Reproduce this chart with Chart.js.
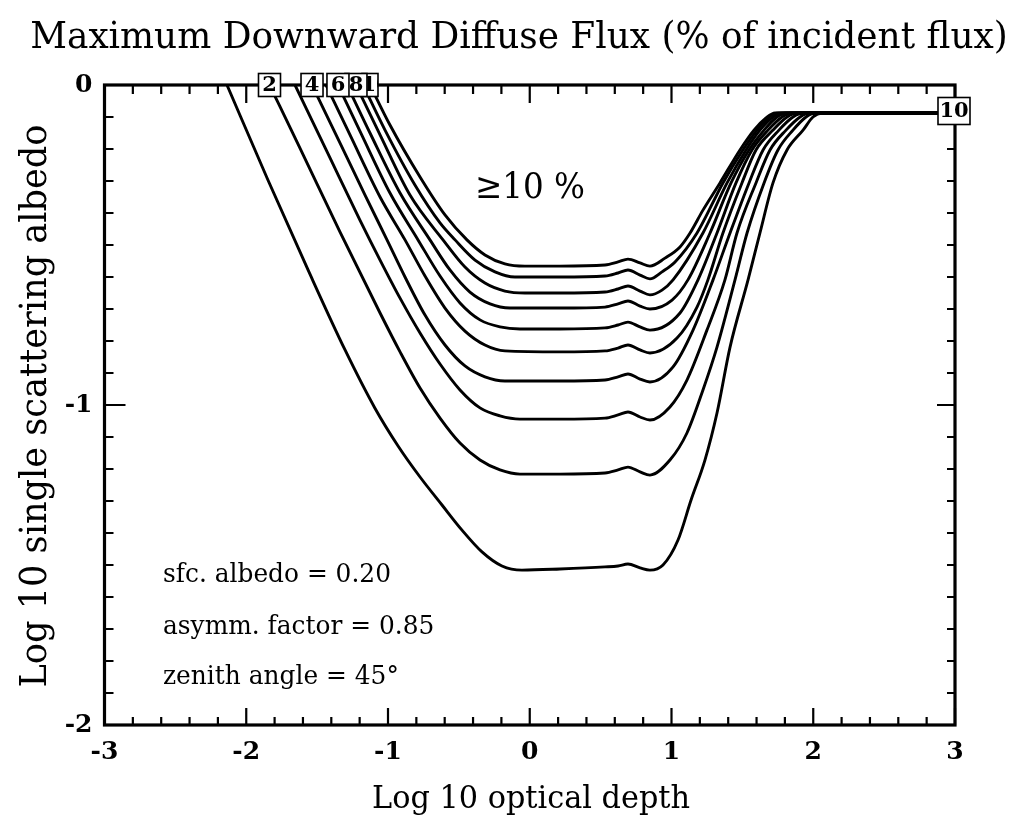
<!DOCTYPE html>
<html>
<head>
<meta charset="utf-8">
<script src="https://cdn.jsdelivr.net/npm/chart.js@4.4.1/dist/chart.umd.min.js"></script>
<style>
  html, body { margin: 0; padding: 0; background: #ffffff; }
  #wrap { width: 1015px; height: 819px; }
</style>
</head>
<body>
<div id="wrap"><canvas id="c" width="1015" height="819"></canvas></div>
<script>
// Contours of maximum downward diffuse flux, 1 % ... 10 %,
// as [log10 optical depth, log10 single scattering albedo] pairs.
const flux1 = [[-2.136,0],[-1.847,-0.297],[-1.564,-0.578],[-1.303,-0.828],[-1.092,-1.010],[-0.929,-1.128],[-0.774,-1.225],[-0.619,-1.3125],[-0.478,-1.391],[-0.337,-1.459],[-0.196,-1.503],[-0.055,-1.516],[0.213,-1.5125],[0.531,-1.506],[0.623,-1.503],[0.693,-1.497],[0.778,-1.509],[0.848,-1.516],[0.940,-1.50],[1.046,-1.422],[1.138,-1.297],[1.236,-1.172],[1.321,-1.025],[1.413,-0.819],[1.540,-0.609],[1.624,-0.4625],[1.716,-0.306],[1.815,-0.203],[1.928,-0.141],[1.998,-0.100],[2.062,-0.0875],[3,-0.0875]];
const flux2 = [[-1.836,0],[-1.621,-0.197],[-1.339,-0.459],[-1.056,-0.7125],[-0.915,-0.834],[-0.774,-0.947],[-0.633,-1.041],[-0.492,-1.119],[-0.351,-1.172],[-0.210,-1.203],[-0.069,-1.216],[0.213,-1.216],[0.531,-1.2125],[0.623,-1.203],[0.693,-1.194],[0.778,-1.209],[0.848,-1.219],[0.989,-1.172],[1.109,-1.0875],[1.222,-0.953],[1.321,-0.819],[1.448,-0.609],[1.533,-0.4625],[1.653,-0.306],[1.751,-0.203],[1.857,-0.141],[1.949,-0.100],[2.012,-0.0875],[3,-0.0875]];
const flux3 = [[-1.656,0],[-1.409,-0.228],[-1.198,-0.422],[-1.056,-0.547],[-0.915,-0.666],[-0.774,-0.775],[-0.633,-0.872],[-0.492,-0.953],[-0.351,-1.009],[-0.210,-1.034],[-0.069,-1.044],[0.213,-1.044],[0.531,-1.041],[0.623,-1.031],[0.693,-1.022],[0.778,-1.0375],[0.848,-1.047],[0.989,-1.006],[1.109,-0.922],[1.250,-0.766],[1.377,-0.609],[1.462,-0.4625],[1.596,-0.306],[1.695,-0.203],[1.808,-0.141],[1.907,-0.100],[1.970,-0.0875],[3,-0.0875]];
const flux4 = [[-1.536,0],[-1.339,-0.181],[-1.162,-0.344],[-1.007,-0.484],[-0.880,-0.600],[-0.739,-0.719],[-0.598,-0.8125],[-0.457,-0.878],[-0.316,-0.912],[-0.175,-0.925],[0.213,-0.925],[0.531,-0.922],[0.623,-0.912],[0.693,-0.903],[0.778,-0.919],[0.848,-0.928],[1.011,-0.881],[1.152,-0.766],[1.293,-0.609],[1.413,-0.4625],[1.547,-0.306],[1.646,-0.203],[1.758,-0.141],[1.857,-0.100],[1.928,-0.0875],[3,-0.0875]];
const flux5 = [[-1.437,0],[-1.268,-0.156],[-1.056,-0.350],[-0.880,-0.484],[-0.739,-0.597],[-0.598,-0.697],[-0.457,-0.769],[-0.316,-0.8125],[-0.175,-0.831],[0.213,-0.834],[0.531,-0.831],[0.623,-0.822],[0.693,-0.8125],[0.778,-0.828],[0.848,-0.8375],[1.039,-0.791],[1.180,-0.694],[1.257,-0.609],[1.363,-0.4625],[1.497,-0.306],[1.596,-0.203],[1.716,-0.141],[1.815,-0.100],[1.885,-0.0875],[3,-0.0875]];
const flux6 = [[-1.353,0],[-1.198,-0.144],[-0.986,-0.3375],[-0.788,-0.484],[-0.633,-0.597],[-0.492,-0.681],[-0.351,-0.734],[-0.210,-0.756],[-0.069,-0.7625],[0.213,-0.7625],[0.531,-0.759],[0.623,-0.750],[0.693,-0.741],[0.778,-0.756],[0.848,-0.766],[1.060,-0.7125],[1.187,-0.609],[1.321,-0.4625],[1.455,-0.306],[1.568,-0.203],[1.681,-0.141],[1.780,-0.100],[1.850,-0.0875],[3,-0.0875]];
const flux7 = [[-1.289,0],[-1.127,-0.150],[-0.915,-0.3375],[-0.704,-0.484],[-0.563,-0.578],[-0.422,-0.647],[-0.280,-0.684],[-0.139,-0.697],[0.213,-0.697],[0.531,-0.694],[0.623,-0.684],[0.693,-0.675],[0.778,-0.691],[0.848,-0.700],[1.004,-0.672],[1.116,-0.609],[1.272,-0.4625],[1.420,-0.306],[1.547,-0.203],[1.653,-0.141],[1.744,-0.100],[1.815,-0.0875],[3,-0.0875]];
const flux8 = [[-1.226,0],[-1.056,-0.156],[-0.845,-0.344],[-0.612,-0.484],[-0.457,-0.569],[-0.316,-0.619],[-0.175,-0.644],[-0.034,-0.650],[0.213,-0.650],[0.531,-0.647],[0.623,-0.6375],[0.693,-0.628],[0.778,-0.644],[0.848,-0.656],[0.933,-0.641],[1.011,-0.609],[1.222,-0.4625],[1.392,-0.306],[1.526,-0.203],[1.624,-0.141],[1.716,-0.100],[1.787,-0.0875],[3,-0.0875]];
const flux9 = [[-1.176,0],[-1.021,-0.141],[-0.810,-0.3125],[-0.633,-0.431],[-0.527,-0.484],[-0.386,-0.547],[-0.245,-0.584],[-0.104,-0.600],[0.213,-0.600],[0.531,-0.597],[0.623,-0.5875],[0.693,-0.578],[0.778,-0.594],[0.848,-0.606],[0.933,-0.584],[1.025,-0.553],[1.180,-0.4625],[1.363,-0.306],[1.504,-0.203],[1.603,-0.141],[1.688,-0.100],[1.758,-0.0875],[3,-0.0875]];
const flux10 = [[-1.127,0],[-0.986,-0.125],[-0.774,-0.2875],[-0.598,-0.406],[-0.443,-0.484],[-0.316,-0.531],[-0.175,-0.559],[-0.034,-0.566],[0.213,-0.566],[0.531,-0.5625],[0.623,-0.553],[0.693,-0.544],[0.778,-0.556],[0.848,-0.566],[0.954,-0.541],[1.060,-0.506],[1.131,-0.4625],[1.222,-0.391],[1.342,-0.306],[1.483,-0.203],[1.582,-0.141],[1.667,-0.103],[1.730,-0.0875],[3,-0.0875]];

const contours = [flux1, flux2, flux3, flux4, flux5, flux6, flux7, flux8, flux9, flux10];
const contourLevels = [1, 2, 3, 4, 5, 6, 7, 8, 9, 10];
// levels that get a boxed label where the contour leaves the top edge
const topLabelLevels = [10, 8, 6, 4, 2];
// level labelled at the right-hand end of its contour
const endLabelLevel = 10;

const xTickValues = [-3, -2, -1, 0, 1, 2, 3];
const yTickValues = [-2, -1, 0];

const titleText = 'Maximum Downward Diffuse Flux (% of incident flux)';
const xTitleText = 'Log 10 optical depth';
const yTitleText = 'Log 10 single scattering albedo';
const regionText = '\u226510 %';
const noteLines = ['sfc. albedo = 0.20', 'asymm. factor = 0.85', 'zenith angle = 45\u00b0'];

const SERIF = '"DejaVu Serif", "Liberation Serif", serif';

// draws text with its glyphs narrowed horizontally by `squeeze`
function drawSqueezed(ctx, text, x, y, align, size, squeeze, weight) {
  ctx.save();
  ctx.font = (weight || 'normal') + ' ' + size.toFixed(2) + 'px ' + SERIF;
  ctx.textAlign = align;
  ctx.translate(x, y);
  ctx.scale(squeeze, 1);
  ctx.fillText(text, 0, 0);
  ctx.restore();
}
// font size that makes `text` span `width` pixels once narrowed by `squeeze`
function sizeFor(ctx, text, width, squeeze, weight) {
  ctx.font = (weight || 'normal') + ' 100px ' + SERIF;
  return 100 * width / (ctx.measureText(text).width * squeeze);
}

// frame, inward tick marks, labels and annotation text
const decorPlugin = {
  id: 'decor',
  afterDatasetsDraw(chart) {
    const ctx = chart.ctx;
    const xs = chart.scales.x, ys = chart.scales.y;
    const a = chart.chartArea;
    ctx.save();
    ctx.strokeStyle = '#000';
    ctx.lineCap = 'butt';

    // minor/major ticks on all four sides, pointing inward
    ctx.lineWidth = 2.2;
    ctx.beginPath();
    for (let i = 0; i <= 30; i++) {
      const v = -3 + i * 0.2;
      const major = i % 5 === 0;
      const p = xs.getPixelForValue(v);
      const lb = major ? 17 : 8;
      const lt = major ? 18 : 9;
      ctx.moveTo(p, a.bottom); ctx.lineTo(p, a.bottom - lb);
      ctx.moveTo(p, a.top); ctx.lineTo(p, a.top + lt);
    }
    for (let i = 0; i <= 20; i++) {
      const v = -2 + i * 0.1;
      const major = i % 10 === 0;
      const p = ys.getPixelForValue(v);
      const ll = major ? 21 : 9;
      const lr = major ? 18 : 8;
      ctx.moveTo(a.left, p); ctx.lineTo(a.left + ll, p);
      ctx.moveTo(a.right, p); ctx.lineTo(a.right - lr, p);
    }
    ctx.stroke();

    // frame
    ctx.lineWidth = 3.2;
    ctx.strokeRect(a.left, a.top, a.right - a.left, a.bottom - a.top);

    // boxed contour labels at the top edge
    ctx.textAlign = 'center';
    ctx.textBaseline = 'middle';
    topLabelLevels.forEach(level => {
      const pts = contours[contourLevels.indexOf(level)];
      const cx = xs.getPixelForValue(pts[0][0]);
      const cy = ys.getPixelForValue(pts[0][1]);
      const w = level >= 10 ? 16 : 22, h = 23;
      ctx.save();
      ctx.fillStyle = '#fff';
      ctx.fillRect(cx - w / 2, cy - h / 2, w, h);
      ctx.beginPath();
      ctx.rect(cx - w / 2, cy - h / 2, w, h);
      ctx.clip();
      ctx.fillStyle = '#000';
      ctx.font = 'bold 21px ' + SERIF;
      ctx.fillText(String(level), level >= 10 ? cx + 6 : cx, cy + 1);
      ctx.restore();
      ctx.lineWidth = 1.6;
      ctx.strokeRect(cx - w / 2, cy - h / 2, w, h);
    });

    // boxed label at the right-hand end
    {
      const pts = contours[contourLevels.indexOf(endLabelLevel)];
      const last = pts[pts.length - 1];
      const cx = xs.getPixelForValue(last[0]) - 1;
      const cy = ys.getPixelForValue(last[1]) - 2;
      const w = 32, h = 27;
      ctx.fillStyle = '#fff';
      ctx.fillRect(cx - w / 2, cy - h / 2, w, h);
      ctx.lineWidth = 1.6;
      ctx.strokeRect(cx - w / 2, cy - h / 2, w, h);
      ctx.fillStyle = '#000';
      ctx.font = 'bold 21px ' + SERIF;
      ctx.fillText(String(endLabelLevel), cx, cy + 1);
    }

    ctx.fillStyle = '#000';
    ctx.textBaseline = 'alphabetic';

    // region label
    drawSqueezed(ctx, regionText, 530, 198, 'center',
      sizeFor(ctx, regionText, 110, 0.9), 0.9);

    // parameter notes
    const noteSize = sizeFor(ctx, noteLines[0], 228, 0.93);
    const baselines = [582, 634, 684];
    noteLines.forEach((t, i) => drawSqueezed(ctx, t, 163, baselines[i], 'left', noteSize, 0.93));

    // chart title
    drawSqueezed(ctx, titleText, 519, 48, 'center',
      sizeFor(ctx, titleText, 978, 0.95), 0.95);

    // axis titles
    drawSqueezed(ctx, xTitleText, 531, 808, 'center',
      sizeFor(ctx, xTitleText, 318, 0.94), 0.94);

    ctx.save();
    ctx.translate(46, 406);
    ctx.rotate(-Math.PI / 2);
    drawSqueezed(ctx, yTitleText, 0, 0, 'center',
      sizeFor(ctx, yTitleText, 563, 0.95), 0.95);
    ctx.restore();

    ctx.restore();
  }
};

const datasets = contours.map((pts, i) => ({
  label: contourLevels[i] + ' %',
  data: pts.map(p => ({ x: p[0], y: p[1] })),
  borderColor: '#000',
  borderWidth: 2.9,
  pointRadius: 0,
  fill: false,
  cubicInterpolationMode: 'monotone'
}));

new Chart(document.getElementById('c'), {
  type: 'line',
  data: { datasets },
  plugins: [decorPlugin],
  options: {
    responsive: false,
    animation: false,
    events: [],
    layout: { padding: { top: 85, right: 60, left: 0, bottom: 0 } },
    plugins: { legend: { display: false }, tooltip: { enabled: false }, title: { display: false } },
    scales: {
      x: {
        type: 'linear', min: -3, max: 3,
        afterFit(s) { s.height = 94; },
        afterBuildTicks(s) { s.ticks = xTickValues.map(v => ({ value: v })); },
        ticks: {
          color: '#000', padding: 12,
          font: { family: SERIF, size: 25, weight: 'bold' },
          callback: v => String(v)
        },
        grid: { display: false, drawTicks: false },
        border: { display: false }
      },
      y: {
        type: 'linear', min: -2, max: 0,
        afterFit(s) { s.width = 104.5; },
        afterBuildTicks(s) { s.ticks = yTickValues.map(v => ({ value: v })); },
        ticks: {
          color: '#000', padding: 12,
          font: { family: SERIF, size: 25, weight: 'bold' },
          callback: v => String(v)
        },
        grid: { display: false, drawTicks: false },
        border: { display: false }
      }
    }
  }
});
</script>
</body>
</html>
